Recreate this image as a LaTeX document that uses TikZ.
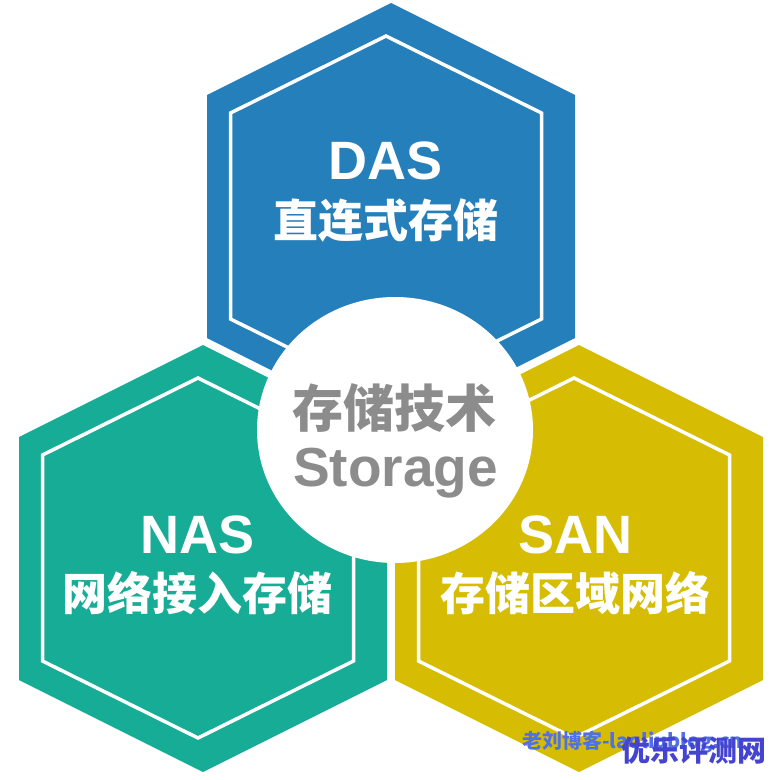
\documentclass[tikz,border=0pt]{standalone}
\usepackage{fontspec}
\setmainfont{Liberation Sans}
\newfontfamily\cjk{Noto Sans CJK SC}
\usetikzlibrary{shapes.geometric}
\definecolor{dasblue}{RGB}{36,127,186}
\definecolor{nasgreen}{RGB}{23,172,149}
\definecolor{sangold}{RGB}{214,189,3}
\definecolor{coregray}{RGB}{140,140,140}
\definecolor{markblue}{RGB}{80,112,232}
\definecolor{markviolet}{RGB}{68,68,208}
\begin{document}
\begin{tikzpicture}[x=1pt,y=-1pt]
\tikzset{hex cell/.style={fill=#1},
  hex rim/.style={draw=white,line width=3.5pt,line join=miter},
  tag/.style={text=#1,font=\bfseries\fontsize{54}{54}\selectfont,anchor=base,inner sep=0pt},
  sub/.style={text=#1,font=\cjk\bfseries\fontsize{45}{45}\selectfont,anchor=base,inner sep=0pt}}
\useasboundingbox[fill=white] (0,0) rectangle (781,779);
% three cells
\foreach \cx/\t/\col in {391/3/dasblue,203/345/nasgreen,579/345/sangold}{
  \fill[hex cell=\col] (\cx,\t) -- ++(184,92) -- ++(0,243) -- ++(-184,92) -- ++(-184,-92) -- ++(0,-243) -- cycle;
  \draw[hex rim] (\cx-5,\t+33) -- ++(155.5,77) -- ++(0,206) -- ++(-155.5,77) -- ++(-155.5,-77) -- ++(0,-206) -- cycle;
}
\node[ellipse,fill=white,minimum width=276pt,minimum height=266pt,inner sep=0pt] (core) at (395,430) {};
\node[tag=white] (das) at (386,179.5) {DAS};
\node[sub=white] (dascn) at (386,237) {直连式存储};
\node[tag=white] (nas) at (197.5,553) {NAS};
\node[sub=white] (nascn) at (197.5,610) {网络接入存储};
\node[tag=white] (san) at (575.5,553) {SAN};
\node[sub=white] (sancn) at (575.5,610) {存储区域网络};
\node[sub=coregray,font=\cjk\bfseries\fontsize{51}{51}\selectfont] (corecn) at (394,427) {存储技术};
\node[tag=coregray,font=\bfseries\fontsize{55}{55}\selectfont] (coreen) at (395.5,486) {Storage};
% watermark
\node[font=\cjk\bfseries\fontsize{20}{20}\selectfont,text=markblue,anchor=base west,inner sep=0pt] (mark) at (522,748) {老刘博客-laoliublog.cn};
\node[font=\cjk\bfseries\fontsize{29}{29}\selectfont,text=markviolet,anchor=base west,inner sep=0pt] (site) at (621,761) {优乐评测网};
\end{tikzpicture}
\end{document}
